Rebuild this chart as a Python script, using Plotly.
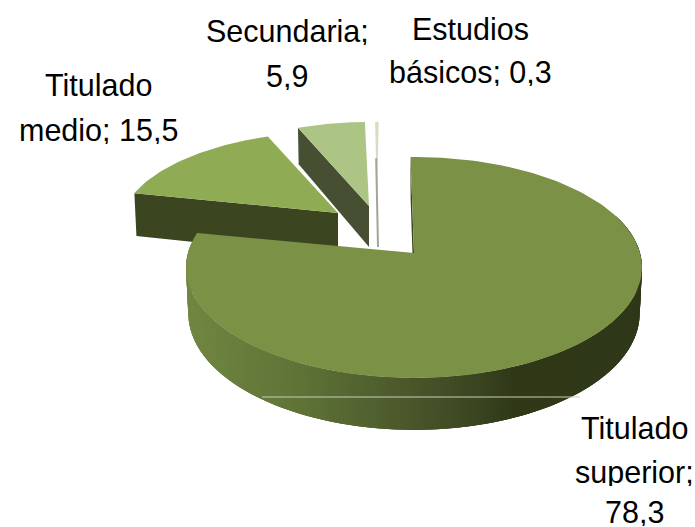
import math
import plotly.graph_objects as go

# ---- data ----
categories = ["Titulado superior", "Titulado medio", "Secundaria", "Estudios básicos"]
values = [78.3, 15.5, 5.9, 0.3]
value_labels = ["78,3", "15,5", "5,9", "0,3"]

# ---- styling / projection ----
W, H = 695, 527
PERSP = 0.131
RX, RY = 226.0, 108.6
top_colors = ["#7a9146", "#8fab53", "#adc584", "#d3dfbf"]
edge_colors = [None, "#3b4520", "#474f33", "#a3a696"]
# apex x, apex y, scale x, scale y, depth, rotation
placement = [
    (414, 253, 1.00, 1.00, 45, -1.0),
    (338, 213, 0.95, 0.85, 44, 0.8),
    (369, 206, 0.92, 0.875, 41, -0.2),
    (377, 206, 0.92, 0.875, 41, 0.5),
]
wall_stops = [(186, (0x71, 0x87, 0x41)), (300, (0x5f, 0x73, 0x37)), (400, (0x4c, 0x5a, 0x2c)),
              (480, (0x3a, 0x45, 0x20)), (515, (0x30, 0x38, 0x18)), (642, (0x2f, 0x38, 0x19))]


def project(p, deg, radius=1.0, down=False):
    cx, cy, sx, sy, depth, rot = p
    a = math.radians(deg + rot)
    u, v = radius * math.sin(a), radius * math.cos(a)
    s = 1 / (1 + PERSP * v)
    x = cx + RX * sx * u * s
    y = cy - RY * sy * v * s
    if down:
        x = cx + (x - cx) * 0.99
        y += depth * s
    return x, y


def wall_color(x):
    if x <= wall_stops[0][0]:
        c = wall_stops[0][1]
    elif x >= wall_stops[-1][0]:
        c = wall_stops[-1][1]
    else:
        for (x0, c0), (x1, c1) in zip(wall_stops, wall_stops[1:]):
            if x0 <= x <= x1:
                t = (x - x0) / (x1 - x0)
                c = tuple(round(a + (b - a) * t) for a, b in zip(c0, c1))
                break
    return "rgb(%d,%d,%d)" % c


def poly(fig, pts, color, name):
    xs = [q[0] for q in pts] + [pts[0][0]]
    ys = [q[1] for q in pts] + [pts[0][1]]
    fig.add_trace(go.Scatter(x=xs, y=ys, mode="lines", fill="toself", fillcolor=color,
                             line=dict(color=color, width=0), hoverinfo="skip",
                             name=name, showlegend=False))


# slice angle ranges, clockwise from 12 o'clock
total = sum(values)
ranges = []
acc = 0.0
for v in values:
    ranges.append((acc, acc + v / total * 360))
    acc += v / total * 360

fig = go.Figure()

# back slices first: smallest, then forward to the biggest
for i in [3, 2, 1]:
    a0, a1 = ranges[i]
    p = placement[i]
    apex = project(p, a0, 0)
    apex_d = project(p, a0, 0, True)
    corner = project(p, a0)
    corner_d = project(p, a0, 1, True)
    if i == 3:
        top = [apex] + [project(p, a0 + (a1 - a0) * k / 4) for k in range(5)]
        poly(fig, top, top_colors[i], categories[i])
        poly(fig, [corner_d, apex_d, (apex_d[0] + 2, apex_d[1]), (corner_d[0] + 2, corner_d[1])],
             edge_colors[i], categories[i])
        continue
    poly(fig, [corner, apex, apex_d, corner_d], edge_colors[i], categories[i])
    n = 40
    top = [apex] + [project(p, a0 + (a1 - a0) * k / n) for k in range(n + 1)]
    poly(fig, top, top_colors[i], categories[i])

# main slice
a0, a1 = ranges[0]
p = placement[0]
poly(fig, [project(p, a0), project(p, a0, 0), project(p, a0, 0, True), project(p, a0, 1, True)],
     "#3b4520", categories[0])
step = 1.0
a = 70.0
while a < a1:
    b = min(a + 3 * step, a1)   # each band overlaps the next so no seams show
    t0, t1 = project(p, a), project(p, b)
    d0, d1 = project(p, a, 1, True), project(p, b, 1, True)
    poly(fig, [t0, t1, d1, d0], wall_color(t0[0]), categories[0])
    a += step
n = 160
top = [project(p, a0, 0)] + [project(p, a0 + (a1 - a0) * k / n) for k in range(n + 1)]
poly(fig, top, top_colors[0], categories[0])

# data labels, one annotation per line
label_lines = [
    (["Titulado", "superior;", value_labels[0]], 634, [428, 472, 512]),
    (["Titulado", "medio; " + value_labels[1]], 98, [85, 130]),
    (["Secundaria;", value_labels[2]], 287, [31, 76]),
    (["Estudios", "básicos; " + value_labels[3]], 470, [29, 72]),
]
annotations = []
for lines, x, ys in label_lines:
    for line, y in zip(lines, ys):
        annotations.append(dict(x=x, y=y, xref="x", yref="y", text=line, showarrow=False,
                                xanchor="center", yanchor="middle", height=28,
                                font=dict(family="Liberation Sans", size=30.5, color="#000000")))

fig.update_layout(
    width=W, height=H, autosize=False,
    margin=dict(l=0, r=0, t=0, b=0),
    paper_bgcolor="#ffffff", plot_bgcolor="#ffffff",
    showlegend=False,
    xaxis=dict(range=[0, W], visible=False, fixedrange=True),
    yaxis=dict(range=[H, 0], visible=False, fixedrange=True),
    annotations=annotations,
    shapes=[dict(type="line", x0=262, x1=580, y0=397, y1=397, xref="x", yref="y",
                 line=dict(color="#c9cdb9", width=1))],
)
fig.write_html("out.html", config={"displayModeBar": False},
               post_script="document.body.style.margin='0';document.documentElement.style.overflow='hidden';")
